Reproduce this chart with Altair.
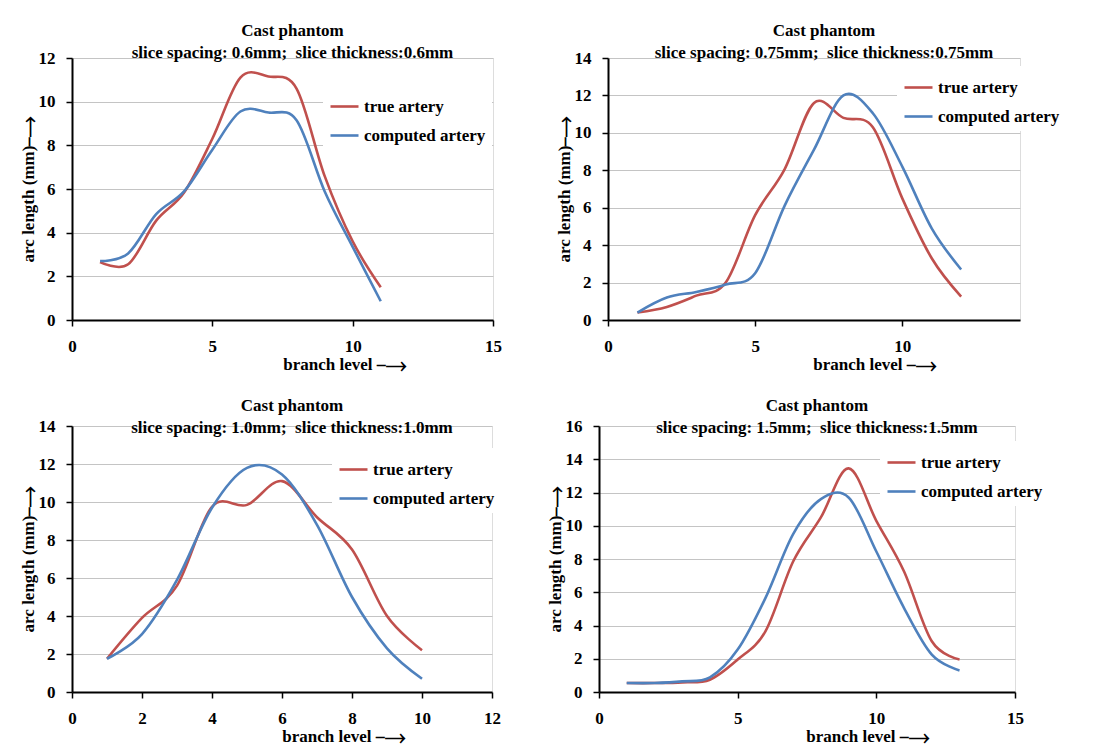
import altair as alt
import pandas as pd

RED = "#C0504D"
BLUE = "#4F81BD"
FONT = "Liberation Serif"
SERIES = ["true artery", "computed artery"]

# Panel 1: slice spacing 0.6mm
p1_x = [1, 2, 3, 4, 5, 6, 7, 8, 9, 10, 11]
p1_true = [2.65, 2.55, 4.55, 5.85, 8.3, 11.1, 11.15, 10.6, 6.6, 3.6, 1.5]
p1_comp = [2.7, 3.05, 4.85, 5.9, 7.8, 9.55, 9.5, 9.15, 5.9, 3.35, 0.86]

# Panel 2: slice spacing 0.75mm
p2_x = [1, 2, 3, 4, 5, 6, 7, 8, 9, 10, 11, 12]
p2_true = [0.4, 0.7, 1.3, 2.0, 5.6, 8.05, 11.6, 10.8, 10.3, 6.5, 3.3, 1.25]
p2_comp = [0.4, 1.2, 1.5, 1.9, 2.5, 6.1, 9.1, 12.0, 11.05, 8.2, 4.9, 2.7]

# Panel 3: slice spacing 1.0mm
p3_x = [1, 2, 3, 4, 5, 6, 7, 8, 9, 10]
p3_true = [1.75, 3.9, 5.6, 9.75, 9.85, 11.1, 9.2, 7.5, 4.0, 2.2]
p3_comp = [1.75, 3.05, 5.9, 9.7, 11.8, 11.45, 8.8, 5.0, 2.3, 0.7]

# Panel 4: slice spacing 1.5mm
p4_x = [1, 2, 3, 4, 5, 6, 7, 8, 9, 10, 11, 12, 13]
p4_true = [0.54, 0.54, 0.58, 0.74, 1.95, 3.65, 7.85, 10.5, 13.45, 10.3, 7.25, 3.05, 1.95]
p4_comp = [0.54, 0.54, 0.64, 0.88, 2.55, 5.65, 9.5, 11.6, 11.7, 8.45, 5.05, 2.25, 1.3]

SUBTITLES = [
    "slice spacing: 0.6mm;\u00a0 slice thickness:0.6mm",
    "slice spacing: 0.75mm;\u00a0 slice thickness:0.75mm",
    "slice spacing: 1.0mm;\u00a0 slice thickness:1.0mm",
    "slice spacing: 1.5mm;\u00a0 slice thickness:1.5mm",
]
X_TITLE = "branch level \u23af\u27f6"
Y_TITLE = "arc length (mm)\u23af\u27f6"
FS = 17


def frame(xs, t, c):
    rows = []
    for x, v in zip(xs, t):
        rows.append({"level": x, "arc": v, "series": SERIES[0]})
    for x, v in zip(xs, c):
        rows.append({"level": x, "arc": v, "series": SERIES[1]})
    return pd.DataFrame(rows)


def panel(df, subtitle, xmax, xticks, ymax, w, h, lx, ly, toff):
    return alt.Chart(df).mark_line(
        interpolate="cardinal", strokeWidth=2.6
    ).encode(
        x=alt.X("level:Q", scale=alt.Scale(domain=[0, xmax], nice=False, zero=True),
                axis=alt.Axis(values=xticks, grid=False, domainColor="black", domainWidth=2,
                              tickColor="black", tickSize=6, tickWidth=1.5,
                              labelFont=FONT, labelFontSize=FS, labelFontWeight="bold",
                              labelColor="black", labelPadding=12, labelFlush=False,
                              title=X_TITLE, titleFont=FONT, titleFontSize=FS,
                              titleFontWeight="bold", titleColor="black",
                              titleX=round(w * 0.645), titlePadding=2)),
        y=alt.Y("arc:Q", scale=alt.Scale(domain=[0, ymax], nice=False),
                axis=alt.Axis(values=list(range(0, ymax + 1, 2)), grid=True, gridColor="#c4c4c4",
                              gridWidth=1, domainColor="black", domainWidth=2,
                              tickColor="black", tickSize=6, tickWidth=1.5,
                              labelFont=FONT, labelFontSize=FS, labelFontWeight="bold",
                              labelColor="black", labelPadding=11,
                              title=Y_TITLE, titleFont=FONT, titleFontSize=FS,
                              titleFontWeight="bold", titleColor="black", titlePadding=1)),
        color=alt.Color("series:N",
                        scale=alt.Scale(domain=SERIES, range=[RED, BLUE]),
                        legend=alt.Legend(title=None, orient="none", legendX=lx, legendY=ly,
                                          symbolType="stroke", symbolSize=784,
                                          symbolStrokeWidth=2.6, labelFont=FONT,
                                          labelFontSize=FS, labelFontWeight="bold",
                                          labelColor="black", fillColor="white",
                                          padding=6, rowPadding=5, labelOffset=4,
                                          labelLimit=300)),
    ).properties(
        width=w, height=h,
        title=alt.TitleParams("Cast phantom", subtitle=subtitle, font=FONT, fontSize=FS,
                              fontWeight="bold", color="black", subtitleFont=FONT,
                              subtitleFontSize=FS, subtitleFontWeight="bold",
                              subtitleColor="black", anchor="middle", offset=toff,
                              subtitlePadding=5, dx=10),
    )


c1 = panel(frame(p1_x, p1_true, p1_comp), SUBTITLES[0], 15, [0, 5, 10, 15], 12, 421, 262, 251, 27, -13)
c2 = panel(frame(p2_x, p2_true, p2_comp), SUBTITLES[1], 14, [0, 5, 10], 14, 412, 262, 289, 8, -13)
c3 = panel(frame(p3_x, p3_true, p3_comp), SUBTITLES[2], 12, [0, 2, 4, 6, 8, 10, 12], 14, 420, 266, 260, 22, -20)
c4 = panel(frame(p4_x, p4_true, p4_comp), SUBTITLES[3], 15, [0, 5, 10, 15], 16, 416, 266, 281, 15, -20)

row1 = alt.hconcat(c1, c2, spacing=52).resolve_scale(color="independent", x="independent", y="independent").resolve_legend(color="independent")
row2 = alt.hconcat(c3, c4, spacing=43).resolve_scale(color="independent", x="independent", y="independent").resolve_legend(color="independent")

chart = alt.vconcat(row1, row2, spacing=23).resolve_scale(
    color="independent", x="independent", y="independent"
).resolve_legend(color="independent").properties(
    padding={"left": 10, "top": 13, "right": 5, "bottom": 5}
).configure_view(stroke=None).configure(background="white")

chart.save("out.html", embed_options={"renderer": "svg", "actions": False})
